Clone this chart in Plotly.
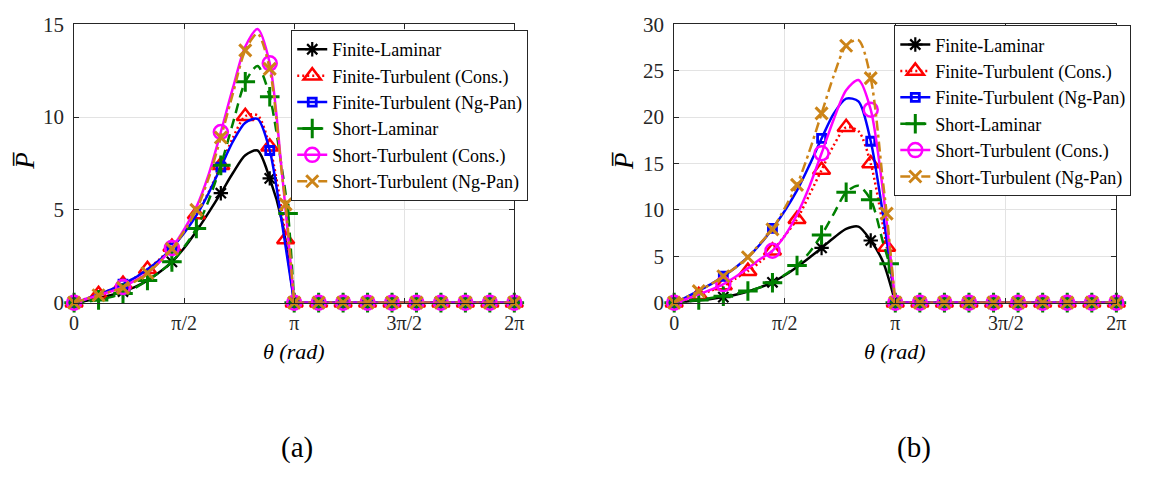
import math
import plotly.graph_objects as go

PI = math.pi
STEP = PI / 18  # grid unit: theta = k * pi/18

# ---------------- data (theta in units of pi/18) ----------------
GRID_1 = list(range(19))                 # 0..18
GRID_2 = list(range(18)) + [17.3, 18]    # extra point near the drop
GRID_3 = list(range(18)) + [17.5, 18]
TAIL_K = [18, 36]                         # P = 0 from pi to 2pi
TAIL_MK = list(range(18, 37, 2))

NAMES = ["Finite-Laminar", "Finite-Turbulent (Cons.)", "Finite-Turbulent (Ng-Pan)",
         "Short-Laminar", "Short-Turbulent (Cons.)", "Short-Turbulent (Ng-Pan)"]

# panel (a)
A_FL = [0, 0.1, 0.25, 0.4, 0.6, 0.85, 1.2, 1.65, 2.2, 2.95, 3.85, 4.85, 5.9, 7.0, 7.95, 8.2, 6.7, 4.4, 0]
A_FTC = [0, 0.22, 0.45, 0.7, 1.0, 1.35, 1.8, 2.35, 3.0, 3.8, 4.75, 5.95, 7.4, 8.9, 10.05, 10.1, 8.4, 4.9, 3.4, 0]
A_FTN = [0, 0.2, 0.45, 0.7, 1.0, 1.35, 1.8, 2.3, 2.95, 3.75, 4.7, 5.9, 7.3, 8.7, 9.7, 9.9, 8.2, 4.3, 0]
A_SL = [0, 0.05, 0.15, 0.3, 0.5, 0.8, 1.2, 1.65, 2.2, 3.0, 4.0, 5.5, 7.4, 9.7, 11.9, 12.75, 11.1, 7.2, 4.8, 0]
A_STC = [0, 0.2, 0.4, 0.6, 0.85, 1.2, 1.6, 2.2, 2.95, 3.95, 5.15, 6.9, 9.2, 11.6, 13.8, 14.75, 12.9, 7.0, 0]
A_STN = [0, 0.2, 0.4, 0.6, 0.8, 1.15, 1.6, 2.2, 2.9, 3.85, 5.0, 6.7, 8.9, 11.3, 13.6, 14.5, 12.6, 6.9, 5.3, 0]

# panel (b)
B_FL = [0, 0.1, 0.25, 0.4, 0.6, 0.85, 1.2, 1.65, 2.2, 2.95, 3.85, 4.85, 5.9, 7.0, 7.95, 8.2, 6.7, 4.4, 0]
B_FTC = [0, 0.35, 0.8, 1.3, 1.85, 2.6, 3.4, 4.4, 5.6, 7.2, 9.0, 11.6, 14.3, 17.0, 18.9, 18.5, 15.0, 8.3, 6.0, 0]
B_FTN = [0, 0.6, 1.3, 2.0, 2.85, 3.8, 4.9, 6.3, 8.0, 9.9, 12.1, 14.8, 17.7, 20.4, 22.0, 21.7, 17.4, 9.5, 0]
B_SL = [0, 0.1, 0.3, 0.5, 0.7, 0.95, 1.25, 1.65, 2.15, 3.0, 4.0, 5.4, 7.3, 9.6, 11.9, 12.6, 11.1, 6.5, 4.2, 0]
B_STC = [0, 0.4, 0.9, 1.4, 2.0, 2.8, 3.7, 4.7, 5.6, 7.2, 9.5, 12.5, 16.1, 19.8, 22.9, 24.0, 20.8, 12.0, 0]
B_STN = [0, 0.6, 1.25, 2.0, 2.85, 3.8, 4.9, 6.4, 7.9, 10.2, 12.7, 16.3, 20.4, 24.5, 27.7, 28.3, 24.2, 13.0, 9.6, 0]

# marker positions (k values)
MK_FL = [0, 4, 8, 12, 16]
MK_FTC = [0, 2, 4, 6, 8, 10, 12, 14, 16, 17.3]
MK_FTN = [0, 4, 8, 12, 16]
MK_SL = [0, 2, 4, 6, 8, 10, 12, 14, 16, 17.5]
MK_STC = [0, 4, 8, 12, 16]
MK_STN = [0, 2, 4, 6, 8, 10, 12, 14, 16, 17.3]

X_TICKS = [0, PI / 2, PI, 3 * PI / 2, 2 * PI]
X_TICK_TEXT = ["0", "π/2", "π", "3π/2", "2π"]
Y_TICKS_A = [0, 5, 10, 15]
Y_TICKS_B = [0, 5, 10, 15, 20, 25, 30]

# ---------------- styles ----------------
STYLES = [
    dict(color="#000000", dash="solid", symbol="asterisk-open", size=12, mlw=2.2),
    dict(color="#ff0000", dash="2px,3px", symbol="triangle-up-open", size=15, mlw=2.5),
    dict(color="#0000ff", dash="solid", symbol="square-open", size=8, mlw=2.8),
    dict(color="#008000", dash="10px,6px", symbol="cross-thin-open", size=14, mlw=3),
    dict(color="#ff00ff", dash="solid", symbol="circle-open", size=14, mlw=2.5),
    dict(color="#cc8418", dash="10px,4px,3px,4px", symbol="x-thin-open", size=12, mlw=3),
]
GRIDS = [GRID_1, GRID_2, GRID_1, GRID_3, GRID_1, GRID_2]
MARKS = [MK_FL, MK_FTC, MK_FTN, MK_SL, MK_STC, MK_STN]
PANEL_A = [A_FL, A_FTC, A_FTN, A_SL, A_STC, A_STN]
PANEL_B = [B_FL, B_FTC, B_FTN, B_SL, B_STC, B_STN]

fig = go.Figure()

def add_panel(values_list, xa, ya, legend_id):
    for name, vals, grid, mks, st in zip(NAMES, values_list, GRIDS, MARKS, STYLES):
        line = dict(color=st["color"], width=2.5, dash=st["dash"])
        marker = dict(symbol=st["symbol"], size=st["size"], color=st["color"],
                      line=dict(color=st["color"], width=st["mlw"]))
        # rising part (0..pi)
        fig.add_trace(go.Scatter(x=[k * STEP for k in grid], y=vals, mode="lines",
                                 line=dict(shape="spline", smoothing=0.8, **line),
                                 xaxis=xa, yaxis=ya, showlegend=False, hoverinfo="skip"))
        # flat part (pi..2pi)
        fig.add_trace(go.Scatter(x=[k * STEP for k in TAIL_K], y=[0, 0], mode="lines",
                                 line=line, xaxis=xa, yaxis=ya, showlegend=False,
                                 hoverinfo="skip"))
        # markers
        mx = [k * STEP for k in mks] + [k * STEP for k in TAIL_MK]
        my = [vals[grid.index(k)] for k in mks] + [0] * len(TAIL_MK)
        fig.add_trace(go.Scatter(x=mx, y=my, mode="markers", marker=marker,
                                 xaxis=xa, yaxis=ya, showlegend=False, cliponaxis=False,
                                 hoverinfo="skip"))
        # legend entry
        fig.add_trace(go.Scatter(x=[None], y=[None], mode="lines+markers", name=name,
                                 line=line, marker=marker, xaxis=xa, yaxis=ya,
                                 legend=legend_id))

add_panel(PANEL_A, "x", "y", "legend")
add_panel(PANEL_B, "x2", "y2", "legend2")

W, H = 1155, 479
FONT = "Liberation Serif"
AX = "#262626"

def xaxis_cfg(dom):
    return dict(domain=dom, range=[0, 2 * PI], tickvals=X_TICKS, ticktext=X_TICK_TEXT,
                showgrid=True, gridcolor="#e3e3e3", zeroline=False, showline=True,
                linecolor=AX, linewidth=1, mirror="ticks", ticks="inside", ticklen=5,
                tickcolor=AX, tickfont=dict(family=FONT, size=20, color=AX),
                ticklabelstandoff=2)

def yaxis_cfg(dom, rng, ticks, anchor):
    return dict(domain=dom, range=rng, tickvals=ticks, showgrid=True, gridcolor="#e3e3e3",
                zeroline=False, showline=True, linecolor=AX, linewidth=1, mirror="ticks",
                ticks="inside", ticklen=5, tickcolor=AX, anchor=anchor,
                tickfont=dict(family=FONT, size=21, color=AX), ticklabelstandoff=5)

YDOM = [1 - 306 / H, 1 - 13 / H]

def legend_cfg(x, y):
    return dict(x=x / W, y=1 - y / H, xanchor="left", yanchor="top", bgcolor="white",
                bordercolor=AX, borderwidth=1, font=dict(family=FONT, size=18, color="black"),
                tracegroupgap=0, itemwidth=30)

fig.update_layout(
    width=W, height=H, margin=dict(l=0, r=0, t=0, b=0),
    paper_bgcolor="white", plot_bgcolor="white",
    font=dict(family=FONT, color="black"),
    xaxis=xaxis_cfg([70 / W, 516 / W]),
    yaxis=yaxis_cfg(YDOM, [0, 15], Y_TICKS_A, "x"),
    xaxis2=dict(anchor="y2", **xaxis_cfg([678 / W, 1126 / W])),
    yaxis2=yaxis_cfg(YDOM, [0, 30], Y_TICKS_B, "x2"),
    legend=legend_cfg(290, 19),
    legend2=legend_cfg(901, 14),
)

ann = [
    dict(text="<i>θ (rad)</i>", x=293 / W, y=1 - 357 / H, size=22),
    dict(text="<i>θ (rad)</i>", x=902 / W, y=1 - 357 / H, size=22),
    dict(text="(a)", x=296 / W, y=1 - 458 / H, size=29),
    dict(text="(b)", x=921 / W, y=1 - 458 / H, size=29),
]
for a in ann:
    fig.add_annotation(text=a["text"], x=a["x"], y=a["y"], xref="paper", yref="paper",
                       xanchor="center", yanchor="middle", showarrow=False,
                       font=dict(family=FONT, size=a["size"], color="black"))
for xp in (20, 627):
    fig.add_annotation(text="<i>P\u0305</i>", x=xp / W, y=1 - 157 / H, xref="paper",
                       yref="paper", xanchor="center", yanchor="middle", showarrow=False,
                       textangle=-90, font=dict(family=FONT, size=27, color="black"))

fig.write_html("out.html")
